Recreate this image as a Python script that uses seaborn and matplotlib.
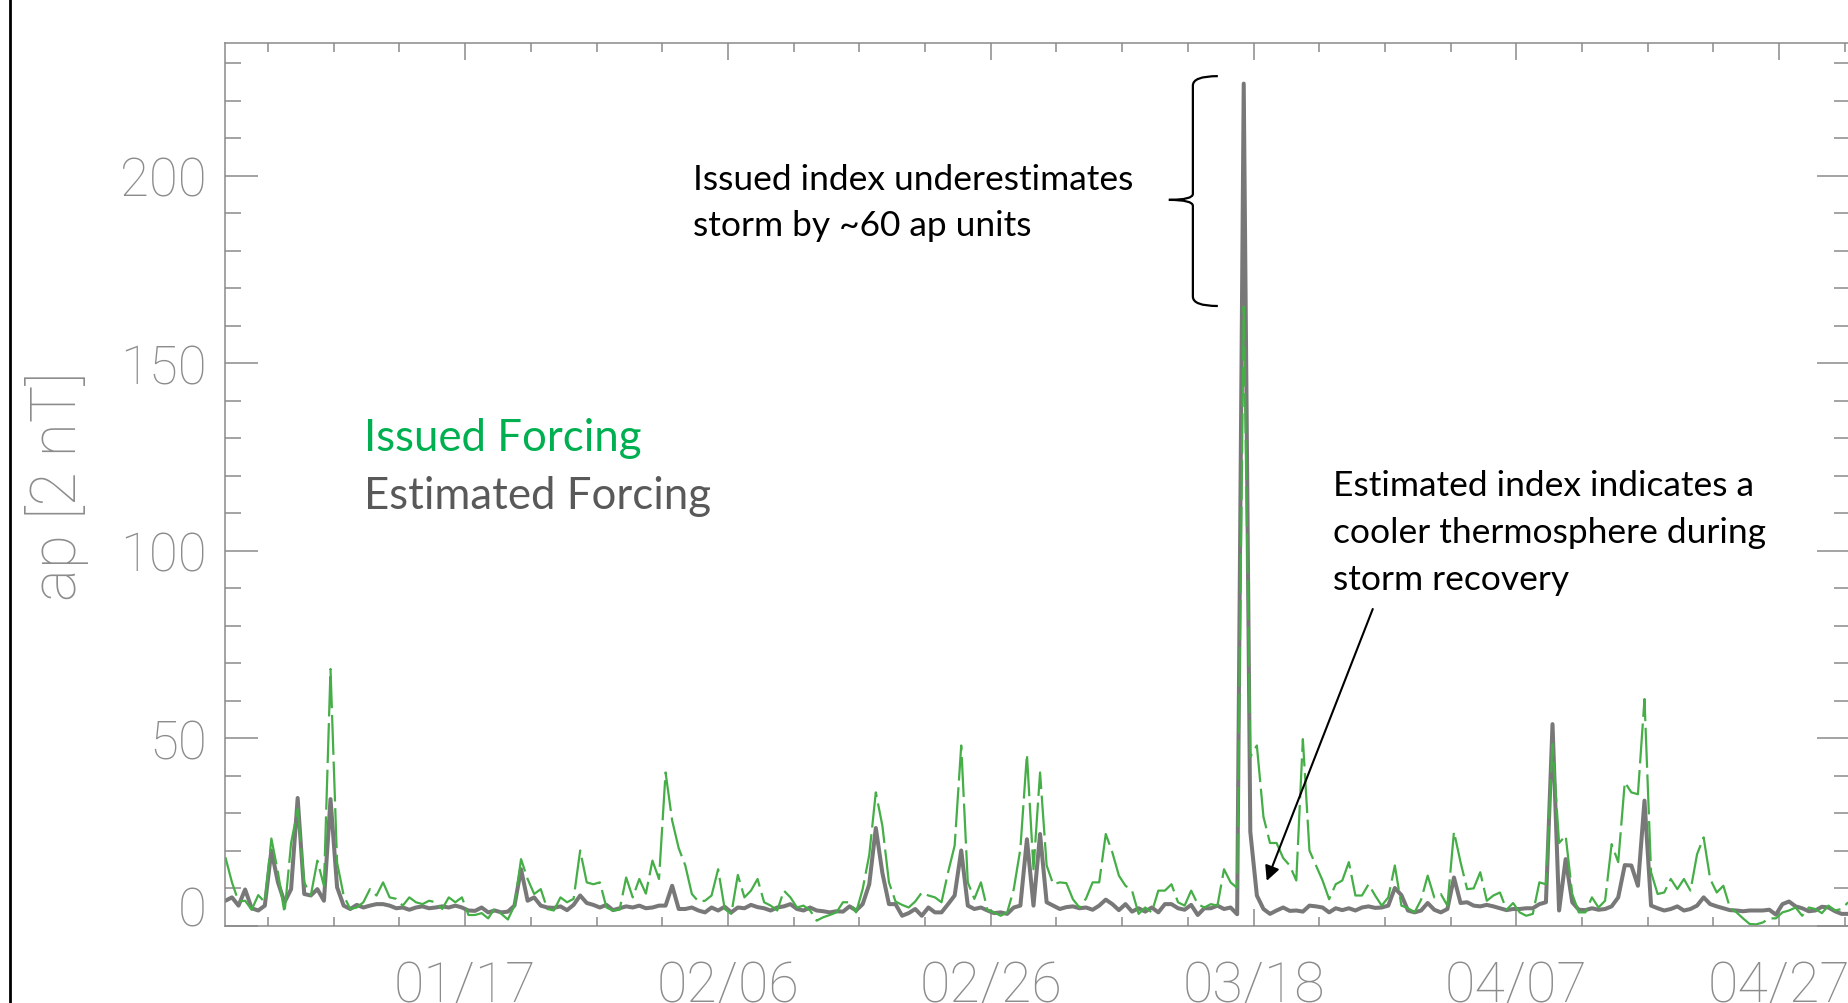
import numpy as np
import pandas as pd
import matplotlib
matplotlib.use("Agg")
import matplotlib.pyplot as plt
import matplotlib.dates as mdates
from matplotlib.lines import Line2D
from matplotlib.path import Path
from matplotlib.patches import PathPatch
import seaborn as sns

# ---------------- data (12-hourly samples) ----------------
start_time = "2014-12-29 18:00"
step = "12h"

estimated_ap = [
    6.6, 7.5, 5.3, 9.6, 4.6, 4.0, 5.3, 20, 11.5, 6.2,
    9.7, 34, 8.4, 8, 9.7, 6.6, 33.7, 10.2, 5.3, 4.4,
    5.5, 4.8, 5.3, 5.7, 5.7, 5.3, 4.6, 4.8, 4.2, 4.8,
    5.1, 4.6, 4.8, 5.1, 4.8, 5.3, 4.8, 4.0, 3.9, 4.8,
    3.5, 4.0, 3.5, 3.7, 5.3, 15, 6.6, 7.5, 5.3, 4.8,
    4.7, 5.1, 4.1, 5.5, 8, 6, 5.5, 4.8, 5.5, 4.1,
    4.6, 5.1, 4.8, 5.3,
    4.6, 4.8, 5.3, 5.3, 10.6, 4.4, 4.4, 4.8, 4.0, 3.5,
    4.8, 4.0, 5.0, 3.5, 4.8, 4.6, 5.5, 4.9, 4.6, 4.0,
    4.8, 5.1, 5.7, 4.4, 4.0, 4.8, 4.0, 3.8, 3.5, 3.8,
    3.7, 5.1, 4.0, 5.7, 11, 26, 14, 5.7, 5.7, 2.6,
    3.3, 4.4, 2.6, 4.8, 3.5, 3.5, 5.7, 8, 20, 5.3,
    4.4, 4.8, 4.0, 3.3, 3.5, 3.1, 4.8, 5.3, 23, 5.3,
    24.4, 6.2,
    5.3, 4.4, 4.9, 5.1, 4.6, 4.8, 4.2, 5.3, 6.9, 5.7,
    4.1, 5.7, 3.7, 4.6, 3.7, 4.8, 3.5, 5.7, 5.7, 4.6,
    4.2, 5.5, 2.8, 4.6, 4.6, 5.3, 4.4, 4.8, 3.0, 224.5,
    25, 8, 4.4, 3.1, 4.0, 4.8, 3.9, 4.0, 3.7, 5.3,
    5.1, 4.8, 3.5, 4.6, 4.1, 4.6, 4.0, 4.8, 5.1, 4.7,
    4.8, 5.3, 10, 8.1, 4.0, 3.5, 4.0, 6.0, 4.2, 3.5,
    4.4, 12.8, 6.0, 6.2, 5.3, 5.1, 5.5, 5.1, 4.6, 4.1,
    4.4, 4.4, 4.6, 4.6, 5.7, 6.2, 53.7, 4.0, 17.7, 6.2,
    4.2, 4.1, 4.6, 4.2, 4.4, 5.1, 7.5, 16.1, 16, 10.6,
    33.3, 5.3, 4.6, 4.0, 4.4, 5.1, 4.0, 4.4, 5.3, 7.5,
    5.7, 5.1, 4.6, 4.1, 4.0, 3.8, 4.0, 4.0, 4.0, 4.2,
    2.9, 5.7, 6.4, 5.1, 4.6, 3.8, 4.0, 5.0, 4.8, 3.8,
    3.1, 3.1,
]

issued_ap = [
    18.2, 11.5, 6.4, 6.6, 4.2, 8.1, 6.2, 23.2, 14.2, 3.3,
    22, 31, 11.5, 8, 17.3, 10.6, 68.4, 16.8, 8, 4.4,
    4.8, 6.2, 9.7, 8, 11.5, 7.5, 7.1, 5.3, 7.5, 6.2,
    5.7, 6.6, 6.2, 4.4, 7.5, 6.2, 7.5, 2.8, 2.8, 3.3,
    1.9, 4.6, 3.1, 1.6, 5.3, 17.7, 12.4, 8.4, 9.7, 4.4,
    4.0, 7.5, 6.2, 7.1, 20, 11.5, 11, 11.5, 4.8, 4.0,
    4.2, 12.8, 7.5, 12.4,
    8.5, 17.3, 12.4, 40.8, 28, 20.6, 16, 8.4, 6.4, 6.6,
    8, 15, 4.4, 3.1, 13.5, 7.5, 9.3, 12.4, 6.2, 5.3,
    4.0, 9.3, 7.5, 4.8, 5.3, 4.0, 1.3, 2.2, 2.8, 3.5,
    6.2, 6.2, 3.5, 9.7, 18.8, 35.5, 26.6, 11.5, 6.4, 5.5,
    4.8, 6.4, 8.8, 8, 7.5, 6.2, 14.2, 21.3, 48, 11.5,
    7.1, 11.5, 4.1, 3.5, 2.6, 3.5, 9.7, 20.4, 45.7, 15,
    40.8, 16,
    11, 11.5, 11.3, 7, 4.8, 7.2, 11.5, 11.5, 24.4, 19.5,
    13.3, 10.6, 9.3, 3.1, 4.8, 3.5, 9.3, 9.3, 11, 6.2,
    5.3, 9.3, 5.7, 4.8, 5.7, 5.3, 15, 11.5, 10, 165,
    45, 48, 29, 22, 22, 18, 16, 12, 49.7, 20,
    16, 12, 7, 11, 12, 16.9, 8, 8, 11, 8,
    5.3, 7.5, 16, 5.3, 4.6, 3.5, 6.9, 13.3, 7.5, 8.4,
    5.3, 25, 16.9, 9.7, 9.9, 14.2, 6.6, 8, 8.8, 4.2,
    6, 3.5, 2.6, 3.1, 11.5, 11, 48.4, 22, 24, 8.4,
    3.5, 3.5, 7.5, 4.8, 6.6, 21.7, 16.9, 38.2, 35.5, 35,
    60.4, 14.2, 8.4, 8.8, 12.4, 9.7, 12.4, 9.3, 19, 23.5,
    12.4, 8.8, 10.6, 4.8, 3.5, 1.9, 0.4, 0.3, 0.8, 1.9,
    1.9, 3.5, 4, 4.8, 2.6, 4.8, 4.4, 3.3, 5.3, 4,
    4.4, 6.2,
]

major_tick_dates = ["2015-01-17", "2015-02-06", "2015-02-26",
                    "2015-03-18", "2015-04-07", "2015-04-27"]
major_tick_labels = ["01/17", "02/06", "02/26", "03/18", "04/07", "04/27"]
y_major_ticks = [0, 50, 100, 150, 200]
y_tick_labels = ["0", "50", "100", "150", "200"]

legend_labels = ["Issued Forcing", "Estimated Forcing"]
note_storm = ["Issued index underestimates", "storm by ~60 ap units"]
note_recovery = ["Estimated index indicates a", "cooler thermosphere during",
                 "storm recovery"]

# ---------------- build frame ----------------
times = pd.date_range(start_time, periods=len(estimated_ap), freq=step)
df = pd.DataFrame({"time": times, "estimated": estimated_ap, "issued": issued_ap})

sns.set_theme(style="white")
plt.rcParams["font.family"] = ["Lato", "DejaVu Sans"]

W, H = 1848, 1004
fig = plt.figure(figsize=(W / 100, H / 100), dpi=100)
fx = lambda px: px / W
fy = lambda py: 1 - py / H

ax = fig.add_axes([fx(225), fy(926.5), 1625 / W, (926.5 - 43.6) / H])

GRAY_LINE = "#787878"
GREEN_LINE = "#45AE47"
AXIS_GRAY = "#8a8a8a"
TICK_TEXT = "#8c8c8c"

sns.lineplot(data=df, x="time", y="estimated", ax=ax, color=GRAY_LINE,
             linewidth=2.9, estimator=None)
sns.lineplot(data=df, x="time", y="issued", ax=ax, color=GREEN_LINE,
             linewidth=1.6, estimator=None)
ax.lines[-1].set_linestyle((0, (18, 3)))
ax.set_xlabel("")
ax.set_ylabel("")

base = pd.Timestamp("2015-01-01")
base_num = mdates.date2num(base)

# ticks (set before limits, since set_ticks can widen the view)
ax.set_xticks(mdates.date2num(pd.to_datetime(major_tick_dates)))
ax.set_xticks(mdates.date2num(pd.date_range("2014-12-28", "2015-05-12", freq="5D")), minor=True)
ax.set_yticks(y_major_ticks)
ax.set_yticks(np.arange(0, 240, 10), minor=True)

xtick_font = dict(fontfamily="Roboto", fontweight=100, fontsize=40, color=TICK_TEXT)
ytick_font = dict(fontfamily="Roboto", fontweight=100, fontsize=38, color=TICK_TEXT)
ax.set_xticklabels(major_tick_labels, **xtick_font)
ax.set_yticklabels(y_tick_labels, **ytick_font)

ax.set_xlim(base_num - 2.28, base_num + 121.39)
ax.set_ylim(0, (926.5 - 43.6) / 3.75)

ax.tick_params(axis="y", which="major", direction="in", length=23.8, width=1.1,
               color=AXIS_GRAY, left=True, right=True, pad=13.0)
ax.tick_params(axis="y", which="minor", direction="in", length=11.5, width=1.1,
               color=AXIS_GRAY, left=True, right=True)
ax.tick_params(axis="x", which="major", direction="in", length=12.2, width=1.1,
               color=AXIS_GRAY, top=True, bottom=True, pad=24)
ax.tick_params(axis="x", which="minor", direction="in", length=6.5, width=1.1,
               color=AXIS_GRAY, top=True, bottom=True)
ax.yaxis.get_major_ticks()[0].label1.set_verticalalignment("baseline")

for s in ax.spines.values():
    s.set_color(AXIS_GRAY)
    s.set_linewidth(1.1)

fig.text(fx(57), fy(486), "ap [2 nT]", rotation=90, ha="center", va="center",
         fontfamily="Roboto", fontweight=100, fontsize=45, color=TICK_TEXT)

# legend-like labels
fig.text(fx(364), fy(451), legend_labels[0], color="#00B050", fontsize=31.5,
         ha="left", va="baseline")
fig.text(fx(364), fy(509), legend_labels[1], color="#595959", fontsize=31.5,
         ha="left", va="baseline")

# annotations
for i, line in enumerate(note_storm):
    fig.text(fx(693), fy(190 + 46 * i), line, color="black", fontsize=25.5,
             ha="left", va="baseline")
for i, line in enumerate(note_recovery):
    fig.text(fx(1333), fy(496 + 47 * i), line, color="black", fontsize=25.5,
             ha="left", va="baseline")

# brace (data coordinates)
x_end, x_mid, x_tip = base_num + 73.28, base_num + 71.38, base_num + 69.55
y_top, y_bot, y_mid = 226.5, 165.2, 193.5
r_end, r_tip = 2.5, 1.6
verts = [
    (x_end, y_top), (x_mid, y_top), (x_mid, y_top - r_end),
    (x_mid, y_mid + r_tip),
    (x_mid, y_mid), (x_tip, y_mid),
    (x_mid, y_mid), (x_mid, y_mid - r_tip),
    (x_mid, y_bot + r_end),
    (x_mid, y_bot), (x_end, y_bot),
]
codes = [Path.MOVETO, Path.CURVE3, Path.CURVE3, Path.LINETO,
         Path.CURVE3, Path.CURVE3, Path.CURVE3, Path.CURVE3,
         Path.LINETO, Path.CURVE3, Path.CURVE3]
ax.add_patch(PathPatch(Path(verts, codes), facecolor="none", edgecolor="black",
                       linewidth=1.6, clip_on=False))

# arrow to recovery period
ax.annotate("", xy=(base_num + 77.0, 11.9), xytext=(base_num + 85.07, 84.4),
            arrowprops=dict(arrowstyle="-|>", color="black", lw=1.5,
                            mutation_scale=22, shrinkA=0, shrinkB=0))

# left frame line
fig.add_artist(Line2D([fx(10), fx(10)], [0, 1], color="black", linewidth=2.0))

fig.savefig("out.png", dpi=100, facecolor="white")
